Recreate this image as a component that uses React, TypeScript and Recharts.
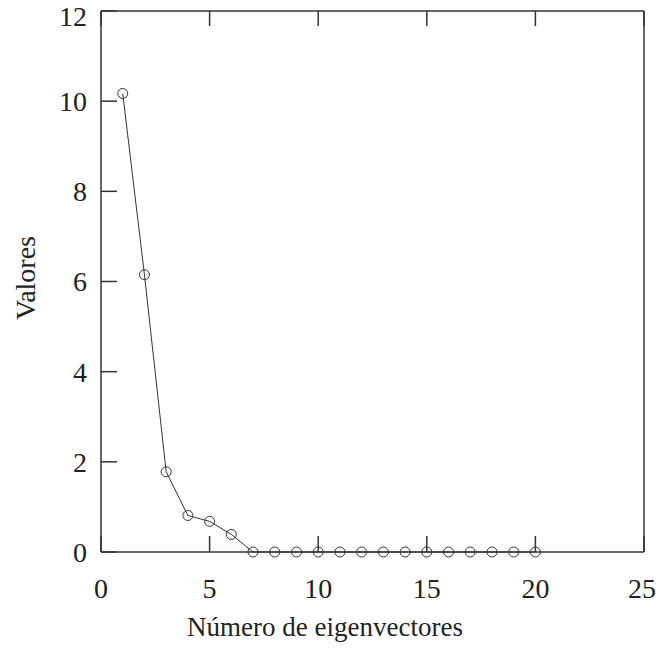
import React from 'react';
import { LineChart, Line, XAxis, YAxis } from 'recharts';

const eigenNumbers = [1, 2, 3, 4, 5, 6, 7, 8, 9, 10, 11, 12, 13, 14, 15, 16, 17, 18, 19, 20];
const eigenValues = [10.17, 6.15, 1.78, 0.81, 0.68, 0.39, 0, 0, 0, 0, 0, 0, 0, 0, 0, 0, 0, 0, 0, 0];
const xTicks = [0, 5, 10, 15, 20, 25];
const yTicks = [0, 2, 4, 6, 8, 10, 12];
const xTitle = 'Número de eigenvectores';
const yTitle = 'Valores';

const data = eigenNumbers.map((n, i) => ({ n, v: eigenValues[i] }));

const FONT = '"Liberation Serif", "DejaVu Serif", serif';
const AX = '#333';
const TXT = '#222';

export default function App() {
  return (
    <div style={{ position: 'absolute', left: 0, top: 0, background: '#fff' }}>
      <LineChart
        width={656}
        height={648}
        data={data}
        margin={{ top: 10, right: 11, left: 0, bottom: 0 }}
      >
        <XAxis
          xAxisId="b"
          dataKey="n"
          type="number"
          domain={[0, 25]}
          ticks={xTicks}
          orientation="bottom"
          height={96}
          tickSize={-16}
          tickMargin={42}
          stroke={AX}
          strokeWidth={1.5}
          tick={{ fill: TXT, fontSize: 28, fontFamily: FONT }}
          label={() => (
            <text x={325} y={636} textAnchor="middle" fill={TXT} fontSize={27} fontFamily={FONT}>
              {xTitle}
            </text>
          )}
        />
        <XAxis
          xAxisId="t"
          dataKey="n"
          type="number"
          domain={[0, 25]}
          ticks={xTicks}
          orientation="top"
          height={1}
          tickSize={-15}
          stroke={AX}
          strokeWidth={1.5}
          tickFormatter={() => ''}
        />
        <YAxis
          yAxisId="l"
          type="number"
          domain={[0, 12]}
          ticks={yTicks}
          orientation="left"
          width={101}
          tickSize={-16}
          tickMargin={30}
          stroke={AX}
          strokeWidth={1.5}
          tick={{ fill: TXT, fontSize: 28, fontFamily: FONT }}
          label={() => (
            <text transform="translate(35,278) rotate(-90)" textAnchor="middle" fill={TXT} fontSize={28} fontFamily={FONT}>
              {yTitle}
            </text>
          )}
        />
        <YAxis
          yAxisId="r"
          type="number"
          domain={[0, 12]}
          ticks={yTicks}
          orientation="right"
          width={1}
          tickSize={-16}
          stroke={AX}
          strokeWidth={1.5}
          tickFormatter={() => ''}
        />
        <Line
          xAxisId="b"
          yAxisId="l"
          dataKey="v"
          stroke="#333"
          strokeWidth={1}
          dot={{ r: 5, stroke: '#333', strokeWidth: 1, fill: 'none' }}
          isAnimationActive={false}
        />
      </LineChart>
    </div>
  );
}
